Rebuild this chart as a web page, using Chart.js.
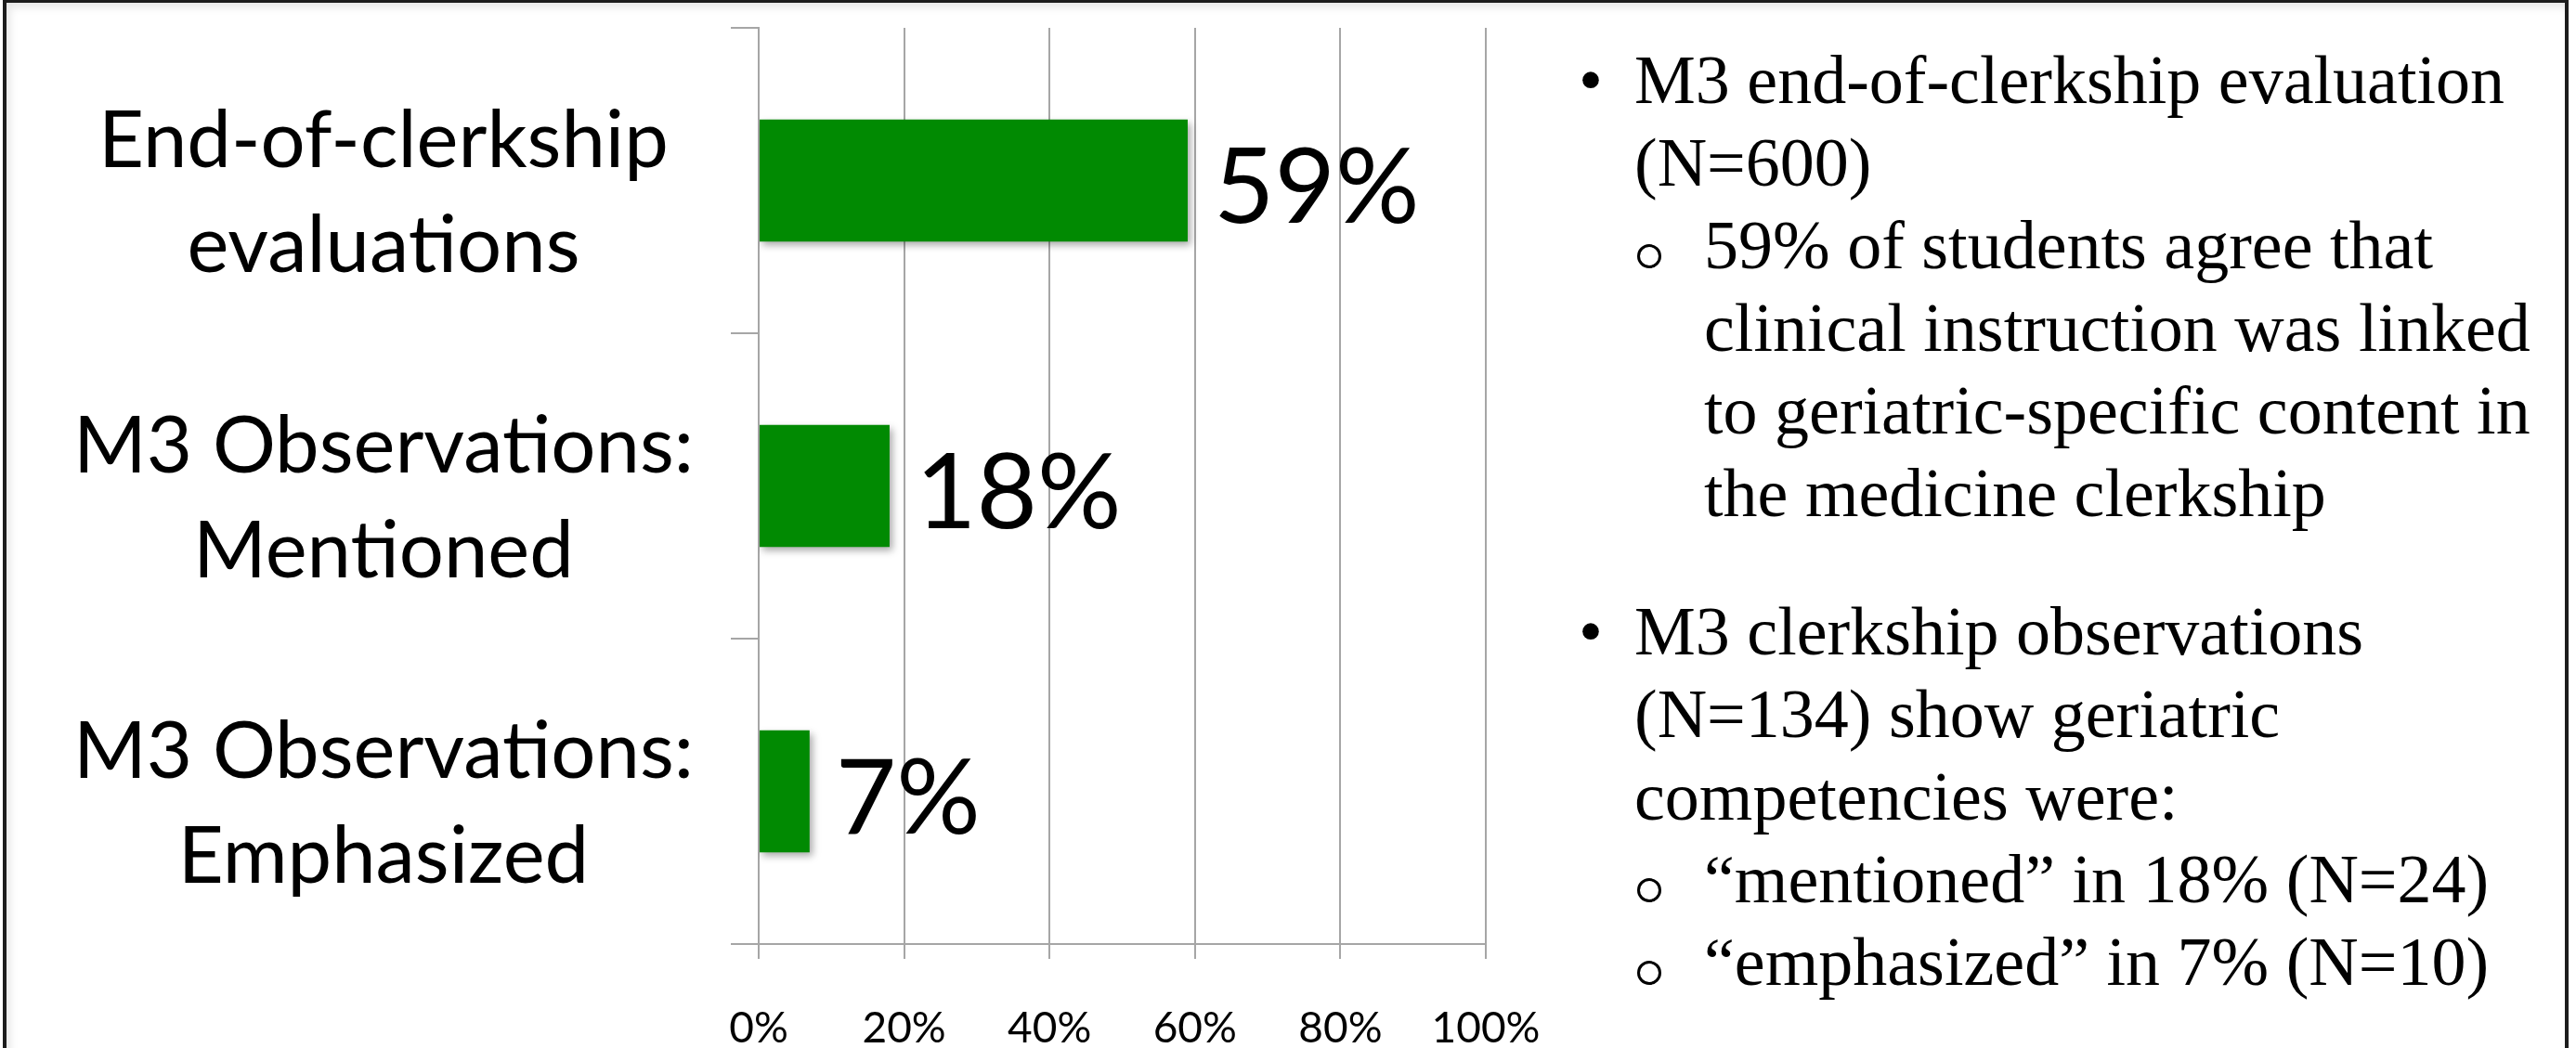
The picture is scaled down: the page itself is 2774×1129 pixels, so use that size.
<!DOCTYPE html>
<html>
<head>
<meta charset="utf-8">
<script src="https://cdn.jsdelivr.net/npm/chart.js@4.4.0/dist/chart.umd.min.js"></script>
<style>
  html, body { margin: 0; padding: 0; background: #fff; }
  body { width: 2774px; height: 1129px; position: relative; overflow: hidden; }
  #frame {
    position: absolute; left: 3px; top: -1px; width: 2763px; height: 1200px;
    box-sizing: border-box; border: 4px solid #1c1c1c;
    box-shadow: inset 4px 5px 8px rgba(0,0,0,0.10);
  }
  #chartBox { position: absolute; left: 0; top: 0; width: 1700px; height: 1129px; }
  .notes {
    position: absolute; font-family: 'Liberation Serif', 'Times New Roman', serif;
    font-size: 74px; line-height: 89px; white-space: nowrap; color: #000;
  }
  .dot { position: absolute; left: -60px; top: 0; }
  .ring {
    position: absolute; left: -72px; width: 20px; height: 20px;
    border: 3px solid #000; border-radius: 50%;
  }
</style>
</head>
<body>
<div id="frame"></div>
<div id="chartBox"><canvas id="obs_chart" width="1700" height="1129"></canvas></div>

<div class="notes" style="left:1760px; top:42px;">
  <span class="dot">•</span>M3 end-of-clerkship evaluation<br>(N=600)
</div>
<div class="notes" style="left:1835px; top:220px;">
  <span class="ring" style="top:43px;"></span>59% of students agree that<br>clinical instruction was linked<br>to geriatric-specific content in<br>the medicine clerkship
</div>
<div class="notes" style="left:1760px; top:636px;">
  <span class="dot">•</span>M3 clerkship observations<br>(N=134) show geriatric<br>competencies were:
</div>
<div class="notes" style="left:1835px; top:903px;">
  <span class="ring" style="top:43px;"></span>“mentioned” in 18% (N=24)<br>
  <span class="ring" style="top:132px;"></span>“emphasized” in 7% (N=10)
</div>

<script>
const categories = [
    ['End-of-clerkship', 'evaluations'],
    ['M3 Observations:', 'Mentioned'],
    ['M3 Observations:', 'Emphasized']
];
const percentValues = [59, 18, 7];
const xTickValues = [0, 20, 40, 60, 80, 100];

// bar shadow + big % labels at the end of each bar
const barExtras = {
    id: 'barExtras',
    beforeDatasetsDraw(chart) {
        const ctx = chart.ctx;
        ctx.save();
        ctx.shadowColor = 'rgba(0,0,0,0.35)';
        ctx.shadowBlur = 8;
        ctx.shadowOffsetX = 3;
        ctx.shadowOffsetY = 4;
    },
    afterDatasetsDraw(chart) {
        const ctx = chart.ctx;
        ctx.restore();
        const meta = chart.getDatasetMeta(0);
        ctx.save();
        ctx.font = '113px Lato';
        ctx.fillStyle = '#000';
        ctx.textAlign = 'left';
        ctx.textBaseline = 'alphabetic';
        meta.data.forEach((bar, i) => {
            ctx.fillText(percentValues[i] + '%', bar.x + 28, bar.y + 45);
        });
        ctx.restore();
    }
};

const chart1 = document.getElementById('obs_chart');

new Chart(chart1, {
    type: 'bar',
    data: {
        labels: categories,
        datasets: [{
            data: percentValues,
            backgroundColor: '#018a02',
            borderWidth: 0,
            barPercentage: 0.4,
            categoryPercentage: 1
        }]
    },
    options: {
        indexAxis: 'y',
        responsive: false,
        animation: false,
        devicePixelRatio: 1,
        layout: {
            padding: { top: 30, left: 0, right: 100, bottom: 0 }
        },
        scales: {
            x: {
                min: 0,
                max: 100,
                afterBuildTicks: scale => {
                    scale.ticks = xTickValues.map(v => ({ value: v }));
                },
                afterFit: scale => {
                    scale.height = 112;
                    scale.paddingLeft = 0;
                    scale.paddingRight = 0;
                },
                ticks: {
                    callback: v => v + '%',
                    font: { family: 'Lato', size: 46 },
                    color: '#000',
                    padding: 48,
                    maxRotation: 0
                },
                grid: {
                    color: '#a6a6a6',
                    lineWidth: 2,
                    tickLength: 16
                },
                border: { color: '#a6a6a6', width: 2 }
            },
            y: {
                afterFit: scale => {
                    scale.width = 817;
                    scale.paddingTop = 0;
                    scale.paddingBottom = 0;
                },
                ticks: {
                    crossAlign: 'center',
                    font: { family: 'Lato', size: 85, lineHeight: 1.33 },
                    color: '#000',
                    padding: 40,
                    labelOffset: 15
                },
                grid: {
                    offset: true,
                    drawOnChartArea: false,
                    tickLength: 30,
                    color: '#a6a6a6',
                    lineWidth: 2
                },
                border: { display: true, color: '#a6a6a6', width: 2 }
            }
        },
        plugins: {
            legend: { display: false },
            tooltip: { enabled: false }
        }
    },
    plugins: [barExtras]
});
</script>
</body>
</html>
